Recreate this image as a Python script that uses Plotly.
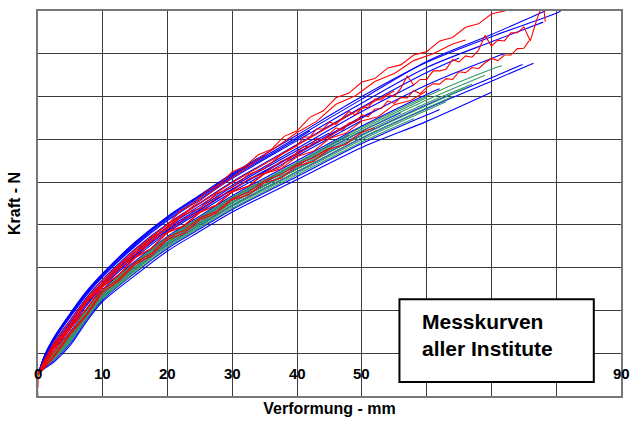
import plotly.graph_objects as go

# ---------------- data ----------------
X_GRID = [0, 1, 2.5, 5, 7.5, 10, 15, 20, 25, 30, 40, 50, 60, 70, 80]

# blue curves: y at X_GRID (truncated) + end point
BLUE_Y = [
    [0.5, 0.95, 1.38, 1.94, 2.45, 2.87, 3.6, 4.2, 4.7, 5.2, 6.1, 7.0, 7.8, 8.4, 8.95],
    [0.5, 0.93, 1.35, 1.90, 2.41, 2.84, 3.56, 4.16, 4.66, 5.15, 6.05, 6.94, 7.82, 8.45],
    [0.5, 0.91, 1.31, 1.85, 2.36, 2.79, 3.5, 4.1, 4.59, 5.09, 5.97, 6.85, 7.68, 8.28],
    [0.5, 0.82, 1.14, 1.62, 2.15, 2.59, 3.27, 3.86, 4.34, 4.82, 5.66, 6.5, 7.27, 7.89],
    [0.5, 0.88, 1.26, 1.78, 2.3, 2.73, 3.44, 4.03, 4.52, 5.01, 5.88, 6.75, 7.56],
    [0.5, 0.86, 1.21, 1.72, 2.24, 2.67, 3.37, 3.96, 4.45, 4.93, 5.79, 6.65],
    [0.5, 0.82, 1.15, 1.64, 2.17, 2.6, 3.29, 3.88, 4.36, 4.84, 5.68, 6.53],
    [0.5, 0.8, 1.11, 1.58, 2.11, 2.56, 3.23, 3.82, 4.3, 4.77, 5.61],
    [0.5, 0.71, 0.94, 1.37, 1.91, 2.37, 3.01, 3.59, 4.05, 4.52, 5.31, 6.1, 6.81, 7.44],
    [0.5, 0.69, 0.9, 1.32, 1.87, 2.32, 2.96, 3.54, 4.0, 4.46, 5.24, 6.03, 6.72, 7.36],
    [0.5, 0.64, 0.8, 1.19, 1.74, 2.21, 2.82, 3.39, 3.85, 4.3, 5.06, 5.81, 6.42],
    [0.5, 0.66, 0.84, 1.24, 1.79, 2.25, 2.88, 3.45, 3.91, 4.36, 5.13, 5.9, 6.57],
    [0.5, 0.74, 0.98, 1.43, 1.96, 2.42, 3.07, 3.65, 4.12, 4.58, 5.39, 6.19],
    [0.5, 0.77, 1.04, 1.51, 2.04, 2.49, 3.15, 3.73, 4.21, 4.68, 5.5, 6.31, 7.05],
    [0.5, 0.84, 1.18, 1.68, 2.2, 2.64, 3.33, 3.92, 4.4, 4.89, 5.74],
    [0.5, 0.92, 1.33, 1.88, 2.39, 2.81, 3.53, 4.13, 4.63, 5.12, 6.01],
    [0.5, 0.94, 1.37, 1.92, 2.43, 2.85, 3.58, 4.18, 4.68, 5.18],
    [0.5, 0.75, 1.01, 1.47, 2.0, 2.45, 3.11, 3.69, 4.16, 4.63, 5.44],
]
BLUE_END = [
    (80.7, 9.0), (78.3, 9.0), (78.0, 8.74), (72.0, 8.0), (65.0, 7.9), (58.0, 7.27),
    (52.0, 6.67), (50.0, 6.44), (74.8, 7.75), (76.5, 7.78), (70.0, 7.1), (62.0, 6.7),
    (56.0, 6.62), (62.0, 7.18), (45.0, 6.15), (42.0, 6.2), (35.0, 5.62), (48.0, 6.1),
]

GREEN_Y = [
    [0.5, 0.76, 1.03, 1.48, 2.02, 2.46, 3.12, 3.71, 4.18, 4.65, 5.46, 6.28, 7.01, 7.64],
    [0.5, 0.74, 0.99, 1.43, 1.97, 2.42, 3.08, 3.66, 4.12, 4.59, 5.4, 6.2, 6.92],
    [0.5, 0.72, 0.96, 1.39, 1.93, 2.39, 3.03, 3.61, 4.08, 4.54, 5.34, 6.14, 6.85],
    [0.5, 0.71, 0.93, 1.36, 1.9, 2.36, 3.0, 3.58, 4.04, 4.51, 5.3, 6.09, 6.79],
    [0.5, 0.7, 0.91, 1.33, 1.87, 2.33, 2.97, 3.55, 4.01, 4.47, 5.25, 6.04, 6.73],
    [0.5, 0.68, 0.89, 1.3, 1.84, 2.3, 2.94, 3.51, 3.97, 4.43, 5.21, 5.99, 6.68],
    [0.5, 0.75, 1.01, 1.46, 1.99, 2.44, 3.1, 3.68, 4.15, 4.62, 5.43, 6.24],
    [0.5, 0.67, 0.86, 1.27, 1.81, 2.28, 2.9, 3.48, 3.94, 4.39, 5.17, 5.94],
]
GREEN_END = [(71.6, 7.72), (69.0, 7.5), (67.0, 7.29), (66.0, 7.2), (64.0, 7.0),
             (63.0, 6.88), (60.0, 6.97), (58.0, 6.48)]

# red curves (measured, noisy)
RED1_X = [0, 1, 2.5, 5, 7.5, 10, 12.5, 15, 17.5, 20, 22, 24, 26, 28, 30, 32, 34, 36, 38, 40,
          42, 44, 46, 48, 50, 52, 54, 56, 58, 60, 62, 64, 66, 68, 70, 72, 74, 76]
RED1_Y = [0.5, 0.8, 1.15, 1.7, 2.22, 2.65, 3.05, 3.38, 3.72, 4.0, 4.33, 4.5, 4.78, 4.95, 5.24,
          5.37, 5.64, 5.76, 6.07, 6.2, 6.52, 6.66, 6.97, 7.08, 7.34, 7.42, 7.67, 7.74, 7.97,
          8.05, 8.3, 8.38, 8.62, 8.7, 8.93, 9.0, 9.2, 9.35]

RED2_X = [0, 1, 2.5, 5, 7.5, 10, 15, 20, 24, 28, 32, 36, 40, 43, 46, 49, 52, 55, 58, 61, 64, 66]
RED2_Y = [0.5, 0.78, 1.12, 1.65, 2.18, 2.6, 3.32, 3.95, 4.45, 4.9, 5.32, 5.72, 6.16, 6.42,
          6.82, 7.02, 7.35, 7.54, 7.84, 8.0, 8.23, 8.32]

RED3_X = [0, 2.5, 5, 7.5, 10, 12.5, 15, 17.5, 20, 22.5, 25, 27.5, 30, 32.5, 35, 37.5, 40,
          41, 42, 43, 44, 45, 46, 47, 48, 49, 50, 51, 52, 53, 54, 55, 56, 57, 58, 59, 60,
          61, 62, 63, 64, 65, 66, 67, 68, 69, 70, 71, 72, 73, 74, 75, 76, 77, 78, 78.3]
RED3_Y = [0.5, 1.2, 1.66, 2.26, 2.62, 3.06, 3.31, 3.7, 3.91, 4.24, 4.39, 4.72, 4.88, 5.18,
          5.32, 5.64, 5.85,
          6.05, 6.06, 6.24, 6.24, 6.4, 6.35, 6.49, 6.65, 6.57, 6.73, 6.75, 6.94, 6.92, 7.05,
          7.0, 7.19, 7.48, 7.27, 7.4, 7.4, 7.6, 7.6, 7.64, 7.86, 7.81, 7.95, 7.92, 8.08,
          8.43, 8.18, 8.32, 8.3, 8.49, 8.49, 8.63, 8.3, 8.8, 9.2, 8.75]

RED4_X = [0, 2.5, 5, 7.5, 10, 12.5, 15, 17.5, 20, 22.5, 25, 27.5, 30, 32.5, 35, 37.5, 40,
          41, 42, 43, 44, 45, 46, 47, 48, 49, 50, 51, 52, 53, 54, 55, 56, 57, 58, 59, 60,
          61, 62, 63, 64, 65, 66, 67, 68, 69, 70, 71, 72, 73, 74, 75, 75.8]
RED4_Y = [0.5, 1.03, 1.58, 2.04, 2.56, 2.83, 3.23, 3.45, 3.82, 3.97, 4.29, 4.46, 4.77, 4.91,
          5.21, 5.36, 5.7,
          5.83, 5.84, 6.02, 5.98, 6.13, 6.27, 6.21, 6.38, 6.41, 6.57, 6.53, 6.71, 6.72, 6.9,
          6.84, 6.98, 6.97, 7.14, 7.07, 7.21, 7.3, 7.29, 7.42, 7.4, 7.58, 7.56, 7.68, 7.65,
          7.79, 7.89, 7.84, 7.97, 7.97, 8.12, 8.13, 8.3]

RED5_X = [0, 1, 2.5, 5, 7.5, 10, 15, 20, 25, 30, 40, 50, 55]
RED5_Y = [0.5, 0.85, 1.25, 1.77, 2.28, 2.72, 3.42, 4.01, 4.5, 4.99, 5.86, 6.73, 7.13]

RED6_X = [0, 0, 2.5, 5, 7.5, 10, 12.5, 15, 17.5, 20, 22.5, 25, 27.5, 30, 32.5, 35, 37.5,
          40, 42.5, 45]
RED6_Y = [0.2, 0.5, 0.94, 1.49, 1.91, 2.49, 2.73, 3.12, 3.33, 3.71, 3.86, 4.17, 4.31, 4.62,
          4.76, 5.04, 5.17, 5.42, 5.57, 5.79]

RED7_X = [0, 2.5, 5, 7.5, 10, 12.5, 15, 17.5, 20, 22.5, 25, 27.5, 30, 32.5, 35, 37.5, 40,
          42.5, 45, 47.5, 50]
RED7_Y = [0.5, 1.17, 1.57, 2.21, 2.56, 3.0, 3.23, 3.62, 3.83, 4.14, 4.31, 4.63, 4.8, 5.07,
          5.21, 5.48, 5.64, 5.9, 6.06, 6.32, 6.5]

RED8_X = [0, 2.5, 5, 7.5, 10, 12.5, 15, 17.5, 20, 22.5, 25, 27.5, 30, 32.5, 35, 37.5, 40,
          42.5, 45, 47.5, 50, 52.5, 55, 57.5, 60]
RED8_Y = [0.5, 1.04, 1.6, 2.03, 2.57, 2.84, 3.24, 3.45, 3.83, 3.98, 4.3, 4.46, 4.78, 4.9,
          5.2, 5.31, 5.6, 5.72, 6.02, 6.14, 6.43, 6.53, 6.81, 6.91, 7.13]

RED9_X = [0, 2.5, 5, 7.5, 10, 12.5, 15, 17.5, 20, 22.5, 25, 27.5, 30, 32.5, 35, 37.5, 40,
          42.5, 45, 47.5, 50, 52]
RED9_Y = [0.5, 0.92, 1.44, 1.89, 2.43, 2.69, 3.08, 3.28, 3.66, 3.8, 4.12, 4.27, 4.59, 4.7,
          4.99, 5.09, 5.38, 5.48, 5.78, 5.88, 6.17, 6.27]

X_TICKS = [0, 10, 20, 30, 40, 50, 60, 70, 80, 90]
X_LABELS_SHOWN = ["0", "10", "20", "30", "40", "50", "90"]
X_LABEL_POS = [0, 10, 20, 30, 40, 50, 90]
Y_TICKS = [0, 1, 2, 3, 4, 5, 6, 7, 8, 9]

BLUE = "#0000FF"
RED = "#FF0000"
GREEN = "#339966"
FONT = "Liberation Sans, Arial, sans-serif"

fig = go.Figure()

for ys, (xe, ye) in zip(BLUE_Y, BLUE_END):
    xs = X_GRID[:len(ys)] + [xe]
    fig.add_trace(go.Scatter(x=xs, y=ys + [ye], mode="lines",
                             line=dict(color=BLUE, width=1.1, shape="spline", smoothing=0.8),
                             hoverinfo="skip", showlegend=False))

for i, (ys, (xe, ye)) in enumerate(zip(GREEN_Y, GREEN_END)):
    xs = X_GRID[:len(ys)] + [xe]
    yy = ys + [ye]
    if i == 0:
        xs = [0] + xs
        yy = [0] + yy
    fig.add_trace(go.Scatter(x=xs, y=yy, mode="lines",
                             line=dict(color=GREEN, width=1.1, shape="spline", smoothing=0.8),
                             hoverinfo="skip", showlegend=False))

for xs, ys in [(RED9_X, RED9_Y), (RED8_X, RED8_Y), (RED5_X, RED5_Y), (RED2_X, RED2_Y),
               (RED1_X, RED1_Y), (RED6_X, RED6_Y), (RED7_X, RED7_Y), (RED4_X, RED4_Y),
               (RED3_X, RED3_Y)]:
    fig.add_trace(go.Scatter(x=xs, y=ys, mode="lines",
                             line=dict(color=RED, width=1.1),
                             hoverinfo="skip", showlegend=False))

# tick labels drawn inside the plot, just above the curves' origin
for xv, txt in zip(X_LABEL_POS, X_LABELS_SHOWN):
    fig.add_annotation(x=xv, y=0.52, text="<b>%s</b>" % txt, showarrow=False,
                       xanchor="center", yanchor="middle",
                       font=dict(family=FONT, size=15, color="black"))

# legend box
fig.add_shape(type="rect", x0=55.8, x1=85.8, y0=0.33, y1=2.26, xref="x", yref="y",
              fillcolor="white", line=dict(color="black", width=2), layer="above")
fig.add_annotation(x=58.9, y=1.43, text="<b>Messkurven<br>aller Institute</b>",
                   showarrow=False, xanchor="left", yanchor="middle", align="left",
                   font=dict(family=FONT, size=21, color="black"))

fig.update_layout(
    width=632, height=423, autosize=False,
    margin=dict(l=38, r=9, t=11, b=27),
    paper_bgcolor="white", plot_bgcolor="white",
    xaxis=dict(range=[0, 90], tickvals=X_TICKS, showticklabels=False,
               showgrid=True, gridcolor="#3a3a3a", gridwidth=1.3, zeroline=False,
               showline=True, mirror=True, linecolor="#777777", linewidth=2,
               title=dict(text="<b>Verformung - mm</b>", standoff=6,
                          font=dict(family=FONT, size=16, color="black"))),
    yaxis=dict(range=[0, 9], tickvals=Y_TICKS, showticklabels=False,
               showgrid=True, gridcolor="#3a3a3a", gridwidth=1.3, zeroline=False,
               showline=True, mirror=True, linecolor="#777777", linewidth=2,
               title=dict(text="<b>Kraft - N</b>", standoff=11,
                          font=dict(family=FONT, size=16, color="black"))),
)

fig.write_html("out.html")
